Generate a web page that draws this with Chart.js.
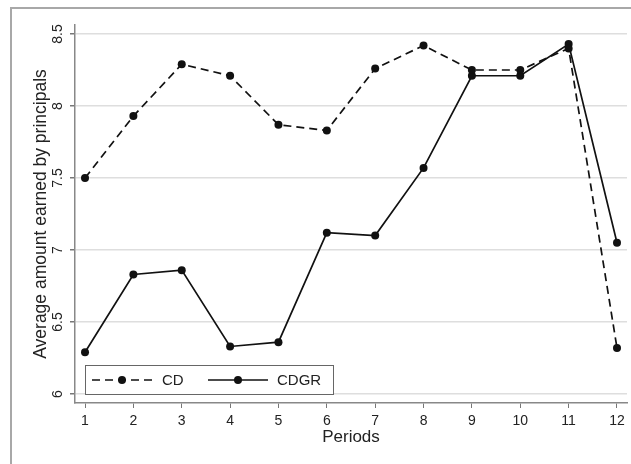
<!DOCTYPE html>
<html>
<head>
  <meta charset="utf-8">
  <title>Average amount earned by principals</title>
  <script src="https://cdn.jsdelivr.net/npm/chart.js@4.4.0/dist/chart.umd.min.js"></script>
  <style>
    body { margin: 0; background: #fff; }
    #wrap { position: absolute; left: 0; top: 0; width: 631px; height: 464px; }
  </style>
</head>
<body>
  <div id="wrap"><canvas id="chart" width="631" height="464"></canvas></div>

  <script>
    // values
    var periods = [1, 2, 3, 4, 5, 6, 7, 8, 9, 10, 11, 12];
    var cd   = [7.50, 7.93, 8.29, 8.21, 7.87, 7.83, 8.26, 8.42, 8.25, 8.25, 8.40, 6.32];
    var cdgr = [6.29, 6.83, 6.86, 6.33, 6.36, 7.12, 7.10, 7.57, 8.21, 8.21, 8.43, 7.05];
    var yTicks = [6, 6.5, 7, 7.5, 8, 8.5];

    var FONT = "'Liberation Sans', Arial, sans-serif";

    function points(vals) {
      return periods.map(function (p, i) { return { x: p, y: vals[i] }; });
    }

    // grey outer frame, like the Stata graph region
    var framePlugin = {
      id: 'frame',
      beforeDraw: function (chart) {
        var ctx = chart.ctx;
        ctx.save();
        ctx.fillStyle = '#fff';
        ctx.fillRect(0, 0, chart.width, chart.height);
        ctx.strokeStyle = '#a8a8a8';
        ctx.lineWidth = 2;
        ctx.strokeRect(11, 8, chart.width + 20, chart.height + 20);
        ctx.restore();
      }
    };

    // legend box drawn inside the plot, bottom left
    var legendPlugin = {
      id: 'insideLegend',
      afterDatasetsDraw: function (chart) {
        var ctx = chart.ctx, area = chart.chartArea;
        var bx = area.left + 10, by = area.bottom - 38, bw = 248, bh = 29;
        ctx.save();
        ctx.fillStyle = '#fff';
        ctx.fillRect(bx, by, bw, bh);
        ctx.strokeStyle = '#666';
        ctx.lineWidth = 1;
        ctx.strokeRect(bx + 0.5, by + 0.5, bw, bh);
        var cy = by + bh / 2 + 0.5;
        var items = [{ x: bx + 7, tx: bx + 77 }, { x: bx + 123, tx: bx + 192 }];
        chart.data.datasets.forEach(function (ds, i) {
          var it = items[i];
          ctx.strokeStyle = ds.borderColor;
          ctx.lineWidth = ds.borderWidth;
          ctx.setLineDash(ds.borderDash || []);
          ctx.beginPath();
          ctx.moveTo(it.x, cy);
          ctx.lineTo(it.x + 60, cy);
          ctx.stroke();
          ctx.setLineDash([]);
          ctx.fillStyle = ds.pointBackgroundColor;
          ctx.beginPath();
          ctx.arc(it.x + 30, cy, ds.pointRadius, 0, Math.PI * 2);
          ctx.fill();
          ctx.fillStyle = '#222';
          ctx.font = '15px ' + FONT;
          ctx.textBaseline = 'middle';
          ctx.fillText(ds.label, it.tx, cy + 1);
        });
        ctx.restore();
      }
    };

    var ctx = document.getElementById('chart').getContext('2d');

    var chart = new Chart(ctx, {
      type: 'line',
      data: {
        datasets: [
          {
            label: 'CD',
            data: points(cd),
            borderColor: '#111',
            borderWidth: 1.7,
            borderDash: [8, 5],
            pointRadius: 4,
            pointBackgroundColor: '#111',
            pointBorderWidth: 0,
            tension: 0,
            fill: false
          },
          {
            label: 'CDGR',
            data: points(cdgr),
            borderColor: '#111',
            borderWidth: 1.7,
            pointRadius: 4,
            pointBackgroundColor: '#111',
            pointBorderWidth: 0,
            tension: 0,
            fill: false
          }
        ]
      },
      options: {
        responsive: false,
        animation: false,
        layout: { padding: { left: 0, top: 25, right: 4, bottom: 0 } },
        plugins: {
          legend: { display: false },
          tooltip: { enabled: false }
        },
        scales: {
          x: {
            type: 'linear',
            min: 0.793,
            max: 12.207,
            afterBuildTicks: function (axis) {
              axis.ticks = periods.map(function (v) { return { value: v }; });
            },
            afterFit: function (axis) { axis.height = 61; },
            grid: { drawOnChartArea: false, drawTicks: true, tickLength: 5, tickColor: '#777' },
            border: { color: '#888', width: 1.5 },
            ticks: {
              color: '#222', padding: 5, maxRotation: 0,
              font: { family: FONT, size: 14 },
              callback: function (v) { return String(v); }
            },
            title: {
              display: true,
              text: 'Periods',
              color: '#222',
              font: { family: FONT, size: 17 },
              padding: { top: 0, bottom: 16 }
            }
          },
          y: {
            min: 5.9375,
            max: 8.5625,
            afterBuildTicks: function (axis) {
              axis.ticks = yTicks.map(function (v) { return { value: v }; });
            },
            afterFit: function (axis) { axis.width = 75; },
            grid: { color: '#dedede', lineWidth: 1.5, tickLength: 5, tickColor: '#777' },
            border: { color: '#888', width: 1.5 },
            ticks: {
              color: '#222',
              padding: 2,
              minRotation: 90,
              maxRotation: 90,
              crossAlign: 'center',
              font: { family: FONT, size: 14 },
              callback: function (v) { return String(v); }
            },
            title: {
              display: true,
              text: 'Average amount earned by principals',
              color: '#222',
              font: { family: FONT, size: 17.5 },
              padding: { top: 31, bottom: 0 }
            }
          }
        }
      },
      plugins: [framePlugin, legendPlugin]
    });
  </script>
</body>
</html>
